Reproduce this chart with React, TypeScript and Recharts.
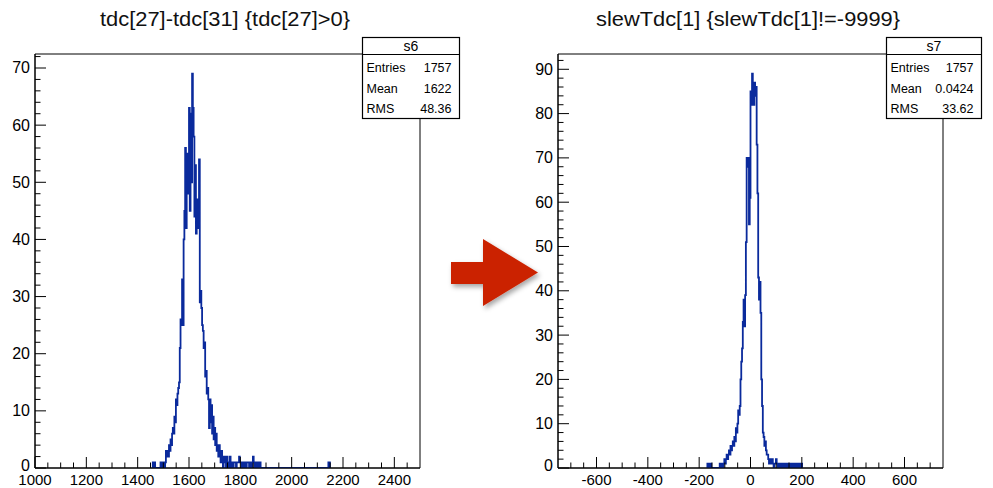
import React from 'react';
import { LineChart, Line, XAxis, YAxis, ReferenceArea } from 'recharts';

// ---------- Left histogram: tdc[27]-tdc[31] ----------
const leftTitle = 'tdc[27]-tdc[31] {tdc[27]>0}';
const leftStatName = 's6';
const leftStatLabels = ['Entries', 'Mean', 'RMS'];
const leftStatValues = ['1757', '1622', '48.36'];
const leftBinWidth = 3;
const leftFirstEdge = 1456;
const leftCounts = [
  0, 1, 0, 1, 0, 0, 0, 0, 0, 0, 0, 1, 0, 1, 0, 1, 0, 1, 3, 2,
  3, 2, 4, 3, 5, 4, 6, 7, 6, 9, 8, 12, 11, 13, 14, 15, 21, 26, 25, 33,
  25, 40, 45, 56, 42, 55, 48, 51, 63, 45, 62, 50, 69, 63, 58, 44, 53, 41, 43, 47,
  42, 54, 29, 31, 28, 25, 24, 21, 22, 16, 17, 13, 14, 12, 7, 12, 8, 11, 6, 9,
  5, 7, 4, 6, 3, 4, 2, 4, 3, 1, 3, 2, 0, 2, 1, 2, 0, 2, 1, 0,
  1, 2, 0, 1, 1, 0, 1, 1, 1, 0, 1, 1, 1, 2, 1, 1, 0, 1, 1, 0,
  1, 1, 0, 1, 1, 1, 0, 1, 1, 0, 1, 2, 1, 0, 1, 0, 1, 0, 1, 0,
  1, 0,
];
const leftOutlierEdges = [2143, 2146];
const leftOutlierCounts = [1, 1];
const leftXDomain = [1000, 2500];
const leftYMax = 72.45;
const leftXMajor = [1000, 1200, 1400, 1600, 1800, 2000, 2200, 2400];
const leftXTicks = [
  1000, 1050, 1100, 1150, 1200, 1250, 1300, 1350, 1400, 1450, 1500, 1550, 1600, 1650, 1700,
  1750, 1800, 1850, 1900, 1950, 2000, 2050, 2100, 2150, 2200, 2250, 2300, 2350, 2400, 2450,
];
const leftYMajor = [0, 10, 20, 30, 40, 50, 60, 70];
const leftYTicks = [
  0, 2, 4, 6, 8, 10, 12, 14, 16, 18, 20, 22, 24, 26, 28, 30, 32, 34, 36, 38, 40,
  42, 44, 46, 48, 50, 52, 54, 56, 58, 60, 62, 64, 66, 68, 70, 72,
];

// ---------- Right histogram: slewTdc[1] ----------
const rightTitle = 'slewTdc[1] {slewTdc[1]!=-9999}';
const rightStatName = 's7';
const rightStatLabels = ['Entries', 'Mean', 'RMS'];
const rightStatValues = ['1757', '0.0424', '33.62'];
const rightBinWidth = 3;
const rightFirstEdge = -171;
const rightCounts = [
  0, 1, 0, 1, 0, 1, 0, 0, 0, 0, 0, 0, 0, 0, 0, 0, 0, 1, 0, 1,
  1, 0, 1, 2, 1, 2, 3, 2, 3, 4, 3, 5, 4, 5, 6, 5, 7, 6, 9, 8,
  10, 13, 12, 14, 20, 24, 27, 33, 38, 32, 39, 51, 70, 68, 70, 55, 61, 85, 82, 89,
  86, 82, 87, 84, 86, 73, 62, 43, 38, 42, 35, 20, 14, 8, 7, 5, 6, 4, 3, 3,
  2, 1, 2, 1, 1, 2, 1, 0, 1, 1, 2, 1, 0, 1, 1, 0, 1, 1, 0, 1,
  0, 1, 1, 0, 1, 0, 1, 0, 1, 0, 1, 0, 1, 0, 1, 0, 1, 0, 1, 1,
  0, 1, 0, 1, 0,
];
const rightXDomain = [-750, 750];
const rightYMax = 93.45;
const rightXMajor = [-600, -400, -200, 0, 200, 400, 600];
const rightXTicks = [
  -700, -650, -600, -550, -500, -450, -400, -350, -300, -250, -200, -150, -100, -50, 0,
  50, 100, 150, 200, 250, 300, 350, 400, 450, 500, 550, 600, 650, 700,
];
const rightYMajor = [0, 10, 20, 30, 40, 50, 60, 70, 80, 90];
const rightYTicks = [
  0, 2, 4, 6, 8, 10, 12, 14, 16, 18, 20, 22, 24, 26, 28, 30, 32, 34, 36, 38, 40,
  42, 44, 46, 48, 50, 52, 54, 56, 58, 60, 62, 64, 66, 68, 70, 72, 74, 76, 78, 80,
  82, 84, 86, 88, 90, 92,
];

const FONT = '"Liberation Sans", Arial, Helvetica, sans-serif';
const LINE_COLOR = '#0a2a9c';

type Pt = { x: number; y: number };

function buildHist(firstEdge: number, width: number, counts: number[], outEdges: number[] = [], outCounts: number[] = []): Pt[] {
  const pts: Pt[] = counts.map((c, i) => ({ x: firstEdge + i * width, y: c }));
  let lastEdge = firstEdge + counts.length * width;
  if (outEdges.length) {
    const lastOut = outEdges[outEdges.length - 1];
    for (let e = lastEdge; e <= lastOut; e += width) {
      const idx = outEdges.indexOf(e);
      pts.push({ x: e, y: idx >= 0 ? outCounts[idx] : 0 });
    }
    lastEdge = lastOut + width;
  }
  pts.push({ x: lastEdge, y: 0 });
  return pts;
}

const leftData = buildHist(leftFirstEdge, leftBinWidth, leftCounts, leftOutlierEdges, leftOutlierCounts);
const rightData = buildHist(rightFirstEdge, rightBinWidth, rightCounts);

const XTick = (props: any) => {
  const { x, y, payload, majors } = props;
  const v = payload.value;
  const isMajor = majors.includes(v);
  return (
    <g>
      <line x1={x} x2={x} y1={y} y2={y - (isMajor ? 11 : 5.5)} stroke="#000" strokeWidth={1} />
      {isMajor && (
        <text x={x} y={y + 17} textAnchor="middle" fontSize={15} fontFamily={FONT} fill="#000">
          {v}
        </text>
      )}
    </g>
  );
};

const YTick = (props: any) => {
  const { x, y, payload, majors } = props;
  const v = payload.value;
  const isMajor = majors.includes(v);
  return (
    <g>
      <line x1={x} x2={x + (isMajor ? 11 : 5.5)} y1={y} y2={y} stroke="#000" strokeWidth={1} />
      {isMajor && (
        <text x={x - 5} y={y} dy={v === 0 ? '0.2em' : '0.34em'} textAnchor="end" fontSize={16} fontFamily={FONT} fill="#000">
          {v}
        </text>
      )}
    </g>
  );
};

type HistProps = {
  data: Pt[];
  xDomain: number[];
  yMax: number;
  xTicks: number[];
  xMajor: number[];
  yTicks: number[];
  yMajor: number[];
  width: number;
  yAxisWidth: number;
  marginRight: number;
};

const Hist = ({ data, xDomain, yMax, xTicks, xMajor, yTicks, yMajor, width, yAxisWidth, marginRight }: HistProps) => (
  <LineChart
    width={width}
    height={488}
    data={data}
    margin={{ top: 54, right: marginRight, bottom: 0, left: 0 }}
  >
    <XAxis
      dataKey="x"
      type="number"
      domain={xDomain}
      allowDataOverflow
      ticks={xTicks}
      interval={0}
      height={20}
      tickSize={0}
      tickMargin={0}
      tickLine={false}
      axisLine={{ stroke: '#000', strokeWidth: 1 }}
      tick={(p: any) => <XTick {...p} majors={xMajor} />}
    />
    <YAxis
      type="number"
      domain={[0, yMax]}
      allowDataOverflow
      ticks={yTicks}
      interval={0}
      width={yAxisWidth}
      tickSize={0}
      tickMargin={0}
      tickLine={false}
      axisLine={{ stroke: '#000', strokeWidth: 1 }}
      tick={(p: any) => <YTick {...p} majors={yMajor} />}
    />
    <ReferenceArea
      x1={xDomain[0]}
      x2={xDomain[1]}
      y1={0}
      y2={yMax}
      fill="none"
      fillOpacity={0}
      stroke="#000"
      strokeWidth={1}
      ifOverflow="visible"
    />
    <Line
      dataKey="y"
      type="stepAfter"
      stroke={LINE_COLOR}
      strokeWidth={1.8}
      dot={false}
      activeDot={false}
      isAnimationActive={false}
    />
  </LineChart>
);

const StatBox = ({ x, w, name, labels, values }: { x: number; w: number; name: string; labels: string[]; values: string[] }) => {
  const top = 37.5;
  const headerBottom = 54.5;
  const bottom = 118.5;
  const rows = [72, 93, 112.5];
  return (
    <g fontFamily={FONT} fill="#000">
      <rect x={x} y={top} width={w} height={bottom - top} fill="#fff" stroke="#000" strokeWidth={1.2} />
      <line x1={x} x2={x + w} y1={headerBottom} y2={headerBottom} stroke="#000" strokeWidth={1.2} />
      <text x={x + w / 2} y={51} textAnchor="middle" fontSize={14}>
        {name}
      </text>
      {labels.map((l, i) => (
        <g key={l}>
          <text x={x + 4} y={rows[i]} fontSize={12.5}>
            {l}
          </text>
          <text x={x + w - 8} y={rows[i]} fontSize={12.5} textAnchor="end">
            {values[i]}
          </text>
        </g>
      ))}
    </g>
  );
};

export default function App() {
  return (
    <div style={{ position: 'absolute', left: 0, top: 0, width: 993, height: 488, background: '#fff', overflow: 'hidden' }}>
      <div style={{ position: 'absolute', left: 0, top: 0 }}>
        <Hist
          data={leftData}
          xDomain={leftXDomain}
          yMax={leftYMax}
          xTicks={leftXTicks}
          xMajor={leftXMajor}
          yTicks={leftYTicks}
          yMajor={leftYMajor}
          width={470}
          yAxisWidth={35}
          marginRight={50}
        />
      </div>
      <div style={{ position: 'absolute', left: 520, top: 0 }}>
        <Hist
          data={rightData}
          xDomain={rightXDomain}
          yMax={rightYMax}
          xTicks={rightXTicks}
          xMajor={rightXMajor}
          yTicks={rightYTicks}
          yMajor={rightYMajor}
          width={473}
          yAxisWidth={38}
          marginRight={50}
        />
      </div>
      <svg width={993} height={488} style={{ position: 'absolute', left: 0, top: 0, pointerEvents: 'none' }}>
        <defs>
          <filter id="arrowShadow" x="-30%" y="-30%" width="160%" height="160%">
            <feDropShadow dx="2" dy="3" stdDeviation="2.5" floodColor="#000" floodOpacity="0.35" />
          </filter>
        </defs>
        <text x={225} y={26} textAnchor="middle" fontSize={20} fontFamily={FONT} fill="#111" textLength={250} lengthAdjust="spacingAndGlyphs">
          {leftTitle}
        </text>
        <text x={748} y={26} textAnchor="middle" fontSize={20} fontFamily={FONT} fill="#111" textLength={304} lengthAdjust="spacingAndGlyphs">
          {rightTitle}
        </text>
        <StatBox x={362.5} w={97} name={leftStatName} labels={leftStatLabels} values={leftStatValues} />
        <StatBox x={886.5} w={95} name={rightStatName} labels={rightStatLabels} values={rightStatValues} />
        <polygon
          points="451,262 483,262 483,239 538,272.5 483,306 483,284 451,284"
          fill="#cb2300"
          filter="url(#arrowShadow)"
        />
      </svg>
    </div>
  );
}
